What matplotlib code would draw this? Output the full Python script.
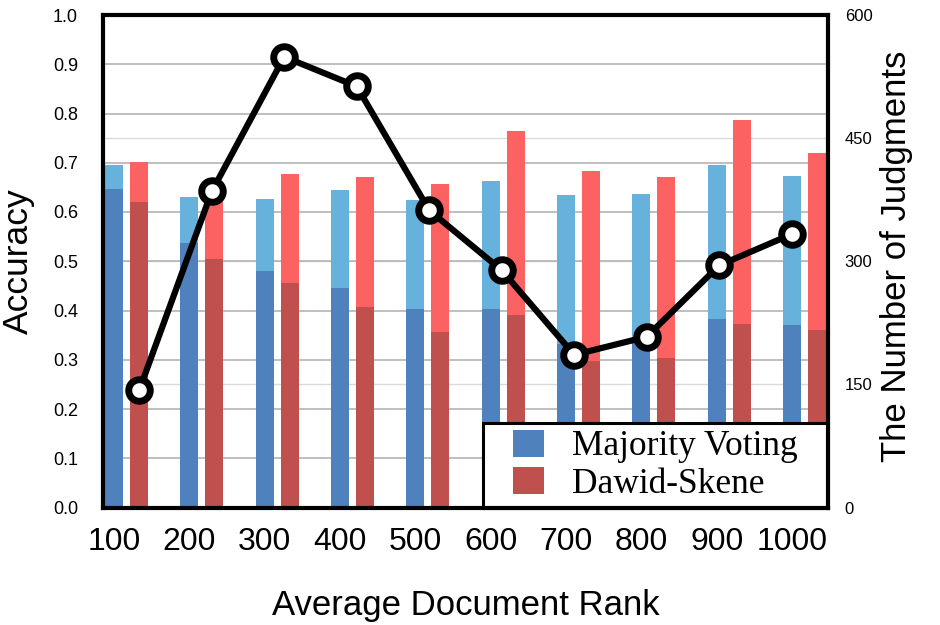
import numpy as np
import matplotlib
matplotlib.use("Agg")
import matplotlib.pyplot as plt
from matplotlib import font_manager
from matplotlib.patches import Patch, Rectangle

# Donnees
ranks = ['100', '200', '300', '400', '500', '600', '700', '800', '900', '1000']
mv_high = [0.695, 0.630, 0.626, 0.645, 0.624, 0.663, 0.635, 0.637, 0.695, 0.673]
mv_low = [0.647, 0.537, 0.480, 0.446, 0.403, 0.403, 0.332, 0.338, 0.383, 0.371]
ds_high = [0.702, 0.641, 0.677, 0.671, 0.657, 0.765, 0.683, 0.671, 0.787, 0.720]
ds_low = [0.621, 0.505, 0.456, 0.407, 0.356, 0.391, 0.297, 0.303, 0.373, 0.361]
judgments = [143, 385, 549, 513, 362, 289, 186, 208, 295, 333]
right_ticks = [0, 150, 300, 450, 600]

c_blue_dark = '#4f81bd'
c_blue_light = '#67b1dd'
c_red_dark = '#c0504d'
c_red_light = '#fc6262'

sans = ['Liberation Sans', 'DejaVu Sans']
try:
    font_manager.findfont('Liberation Sans Narrow', fallback_to_default=False)
    narrow = ['Liberation Sans Narrow', 'DejaVu Sans']
except Exception:
    narrow = sans
plt.rcParams['font.family'] = sans

fig = plt.figure(figsize=(9.4, 6.25), dpi=100)
ax = fig.add_axes([103 / 940, 117.5 / 625, 725 / 940, 492.5 / 625])

x = np.arange(len(ranks))
w = 0.239
off = 0.332

# Grille
ax.set_ylim(0, 1.0)
ax.set_yticks(np.arange(0, 1.01, 0.1))
ax.set_yticklabels([f'{v:.1f}' for v in np.arange(0, 1.01, 0.1)])
ax.yaxis.grid(True, color='#b4b4b4', linewidth=1.2, zorder=0)
ax.set_axisbelow(True)
for t in right_ticks[1:-1]:
    ax.axhline(t / right_ticks[-1], color='#dadada', linewidth=1.0, zorder=0.5)

# Barres
ax.bar(x, mv_high, width=w, color=c_blue_light, zorder=2)
ax.bar(x, mv_low, width=w, color=c_blue_dark, zorder=2.1)
ax.bar(x + off, ds_high, width=w, color=c_red_light, zorder=2)
ax.bar(x + off, ds_low, width=w, color=c_red_dark, zorder=2.1)

ax.set_xlim(-0.146, 9.478)
ax.set_xticks(x)
ax.set_xticklabels(ranks, fontsize=23, family=narrow)
ax.tick_params(axis='x', length=0, pad=14)
ax.tick_params(axis='y', length=0, pad=18, labelsize=13)
for s in ax.spines.values():
    s.set_linewidth(3)
    s.set_zorder(6)

ax.set_ylabel('Accuracy', fontsize=25.5)
ax.yaxis.set_label_coords(-0.094, 0.5)
ax.set_xlabel('Average Document Rank', fontsize=25)
ax.xaxis.set_label_coords(0.5, -0.165)

# Axe de droite
ax2 = ax.twinx()
ax2.set_ylim(0, right_ticks[-1])
ax2.set_yticks(right_ticks)
ax2.tick_params(axis='y', length=0, pad=12, labelsize=12)
for s in ax2.spines.values():
    s.set_visible(False)
ax2.set_ylabel('The Number of Judgments', fontsize=25)
ax2.yaxis.set_label_coords(1.0717, 0.51)

axl = ax2.twiny()
axl.set_xlim(-0.5, len(judgments) - 0.5)
axl.xaxis.set_visible(False)
for s in axl.spines.values():
    s.set_visible(False)
axl.plot(np.arange(len(judgments)), judgments, color='black', linewidth=4.5,
         marker='o', markersize=15.5, markerfacecolor='white',
         markeredgecolor='black', markeredgewidth=5, zorder=3)

# Legende
rx0 = (483 - 103) / 725
rh = (507.5 - 423) / 492.5
ax.add_patch(Rectangle((rx0, 0), 1 - rx0, rh, transform=ax.transAxes,
                       facecolor='white', edgecolor='black', linewidth=2.2,
                       zorder=5, clip_on=False))
handles = [Patch(facecolor=c_blue_dark), Patch(facecolor=c_red_dark)]
leg = ax.legend(handles, ['Majority Voting', 'Dawid-Skene'], loc='center',
                bbox_to_anchor=(rx0 + (1 - rx0) / 2, rh / 2),
                bbox_transform=ax.transAxes, frameon=False,
                prop={'family': ['Liberation Serif', 'DejaVu Serif'], 'size': 25.5},
                handlelength=0.85, handleheight=0.8, handletextpad=0.8,
                labelspacing=0.1, borderpad=0)
leg.set_zorder(7)

fig.savefig('out.png', dpi=100)
